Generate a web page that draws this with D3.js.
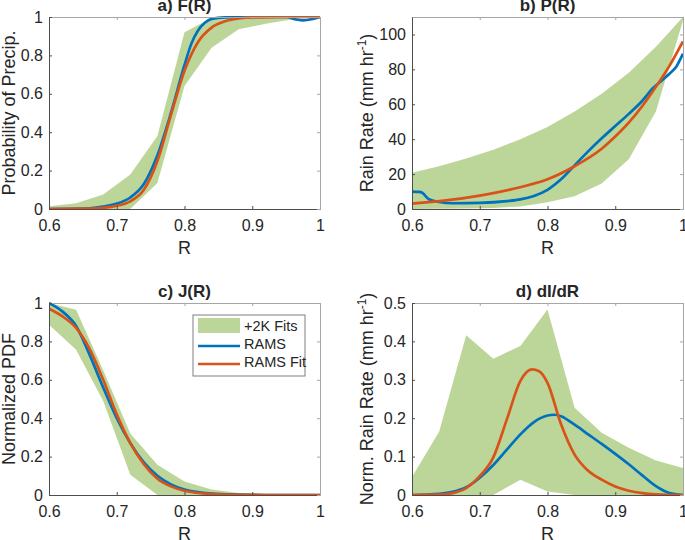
<!doctype html>
<html>
<head>
<meta charset="utf-8">
<script src="https://d3js.org/d3.v7.min.js"></script>
<style>
  body { margin: 0; background: #fff; }
  text { font-family: "Liberation Sans", Arial, Helvetica, sans-serif; fill: #262626; }
</style>
</head>
<body>
<svg width="685" height="540" id="chart"></svg>
<script>
// ---- data ----
var bandR = [0.6, 0.64, 0.68, 0.72, 0.76, 0.80, 0.84, 0.88, 0.92, 0.96, 1.0];

// a) F(R)
var bandHiA = [0.014, 0.03, 0.075, 0.18, 0.38, 0.92, 0.995, 1, 1, 1, 1];
var bandLoA = [0, 0, 0, 0, 0.135, 0.64, 0.84, 0.936, 0.965, 0.988, 1];
var ramsRA  = [0.6, 0.66, 0.68, 0.70, 0.72, 0.74, 0.76, 0.78, 0.80, 0.81, 0.82, 0.83, 0.84, 0.86, 0.9, 0.95, 0.965, 0.975, 0.985, 1.0];
var ramsA   = [0, 0.004, 0.012, 0.028, 0.06, 0.13, 0.28, 0.5, 0.75, 0.86, 0.93, 0.97, 0.99, 0.998, 1, 1, 0.987, 0.982, 0.987, 1];
var fitRA   = [0.6, 0.66, 0.68, 0.70, 0.72, 0.74, 0.76, 0.78, 0.80, 0.82, 0.84, 0.86, 0.88, 0.90, 0.95, 1.0];
var fitA    = [0, 0.002, 0.006, 0.017, 0.04, 0.1, 0.25, 0.49, 0.72, 0.87, 0.945, 0.978, 0.992, 0.998, 1, 1];

// b) P(R)
var bandHiB = [20.8, 24.5, 29, 34, 40, 47, 55.8, 66, 78, 93, 110];
var bandLoB = [0, 0.1, 0.3, 0.6, 1.5, 3.8, 7.3, 14.6, 28.5, 55.8, 108];
var ramsRB  = [0.6, 0.61, 0.615, 0.625, 0.64, 0.66, 0.70, 0.74, 0.76, 0.78, 0.80, 0.82, 0.84, 0.86, 0.88, 0.90, 0.92, 0.94, 0.955, 0.97, 0.98, 0.99, 1.0];
var ramsB   = [10, 9.8, 9.3, 5.6, 4.0, 3.3, 3.5, 4.5, 5.5, 7.5, 11, 17, 25, 33, 40.5, 47.5, 54.5, 62, 69, 74, 77.5, 81.5, 89];
var fitRB   = [0.6, 0.65, 0.70, 0.75, 0.80, 0.84, 0.88, 0.90, 0.92, 0.94, 0.96, 0.98, 1.0];
var fitB    = [3.1, 4.9, 7.7, 11.6, 17, 24.5, 34.5, 41.5, 49.5, 59, 70, 82, 96];

// c) J(R)
var bandHiC = [1.0, 0.965, 0.65, 0.32, 0.158, 0.07, 0.028, 0.01, 0.004, 0.001, 0];
var bandLoC = [0.887, 0.757, 0.49, 0.106, 0, 0, 0, 0, 0, 0, 0];
var ramsRC  = [0.6, 0.62, 0.64, 0.66, 0.68, 0.70, 0.72, 0.74, 0.76, 0.78, 0.80, 0.84, 0.88, 0.92, 1.0];
var ramsC   = [1.0, 0.955, 0.88, 0.73, 0.56, 0.4, 0.27, 0.17, 0.1, 0.055, 0.028, 0.007, 0.002, 0, 0];
var fitRC   = [0.6, 0.62, 0.64, 0.66, 0.68, 0.70, 0.72, 0.74, 0.76, 0.78, 0.80, 0.84, 0.88, 0.92, 1.0];
var fitC    = [0.97, 0.93, 0.87, 0.76, 0.6, 0.42, 0.27, 0.16, 0.085, 0.045, 0.022, 0.005, 0.001, 0, 0];

// d) dI/dR
var bandHiD = [0.047, 0.165, 0.416, 0.355, 0.388, 0.483, 0.227, 0.162, 0.123, 0.09, 0.07];
var bandLoD = [0, 0, 0, 0, 0.04, 0.009, 0, 0, 0, 0, 0];
var ramsRD  = [0.6, 0.64, 0.66, 0.68, 0.70, 0.72, 0.74, 0.76, 0.78, 0.80, 0.81, 0.82, 0.84, 0.86, 0.88, 0.90, 0.92, 0.94, 0.96, 0.98, 1.0];
var ramsD   = [0, 0.003, 0.008, 0.02, 0.045, 0.078, 0.118, 0.158, 0.19, 0.207, 0.209, 0.205, 0.183, 0.158, 0.133, 0.107, 0.08, 0.051, 0.023, 0.005, 0];
var fitRD   = [0.6, 0.64, 0.66, 0.68, 0.70, 0.72, 0.74, 0.76, 0.777, 0.787, 0.80, 0.82, 0.84, 0.86, 0.88, 0.90, 0.92, 0.94, 0.96, 1.0];
var fitD    = [0, 0.001, 0.005, 0.018, 0.049, 0.098, 0.197, 0.297, 0.327, 0.323, 0.292, 0.184, 0.105, 0.063, 0.04, 0.022, 0.011, 0.005, 0.002, 0];

var xTicks = [0.6, 0.7, 0.8, 0.9, 1.0];
var xTickLabels = ["0.6", "0.7", "0.8", "0.9", "1"];
var yTicksA = [0, 0.2, 0.4, 0.6, 0.8, 1], yTickLabelsA = ["0", "0.2", "0.4", "0.6", "0.8", "1"];
var yTicksB = [0, 20, 40, 60, 80, 100], yTickLabelsB = ["0", "20", "40", "60", "80", "100"];
var yTicksC = [0, 0.2, 0.4, 0.6, 0.8, 1], yTickLabelsC = ["0", "0.2", "0.4", "0.6", "0.8", "1"];
var yTicksD = [0, 0.1, 0.2, 0.3, 0.4, 0.5], yTickLabelsD = ["0", "0.1", "0.2", "0.3", "0.4", "0.5"];

var legendLabels = ["+2K Fits", "RAMS", "RAMS Fit"];

var blue = "#0072BD", orange = "#D95319", green = "#bcd699";

var svg = d3.select("#chart");

function zip(xs, ys) { return xs.map(function (x, i) { return [x, ys[i]]; }); }

function panel(id, box, yDomain, yTicks, yTickLabels, title, ylabel, band, rams, fit) {
  var x = d3.scaleLinear().domain([0.6, 1]).range([box.x0, box.x1]);
  var y = d3.scaleLinear().domain(yDomain).range([box.y1, box.y0]);

  svg.append("clipPath").attr("id", "clip" + id)
    .append("rect").attr("x", box.x0).attr("y", box.y0 - 1)
    .attr("width", box.x1 - box.x0).attr("height", box.y1 - box.y0 + 2);

  var g = svg.append("g").attr("clip-path", "url(#clip" + id + ")");

  // band
  var area = d3.area()
    .x(function (d) { return x(d[0]); })
    .y0(function (d) { return y(d[1]); })
    .y1(function (d) { return y(d[2]); });
  g.append("path")
    .datum(bandR.map(function (r, i) { return [r, band[0][i], band[1][i]]; }))
    .attr("d", area)
    .attr("fill", green);

  var line = d3.line()
    .x(function (d) { return x(d[0]); })
    .y(function (d) { return y(d[1]); })
    .curve(d3.curveMonotoneX);

  g.append("path").datum(zip(rams[0], rams[1])).attr("d", line)
    .attr("fill", "none").attr("stroke", blue).attr("stroke-width", 2.7);
  g.append("path").datum(zip(fit[0], fit[1])).attr("d", line)
    .attr("fill", "none").attr("stroke", orange).attr("stroke-width", 2.7);

  // MATLAB style box with inward ticks
  var axB = d3.axisBottom(x).tickValues(xTicks).tickSizeInner(-3).tickSizeOuter(0)
    .tickFormat(function (d, i) { return xTickLabels[i]; }).tickPadding(11);
  var axT = d3.axisTop(x).tickValues(xTicks).tickSizeInner(-3).tickSizeOuter(0).tickFormat("");
  var axL = d3.axisLeft(y).tickValues(yTicks).tickSizeInner(-3).tickSizeOuter(0)
    .tickFormat(function (d, i) { return yTickLabels[i]; }).tickPadding(6);
  var axR = d3.axisRight(y).tickValues(yTicks).tickSizeInner(-3).tickSizeOuter(0).tickFormat("");

  var gb = svg.append("g").attr("transform", "translate(0," + box.y1 + ")").call(axB);
  var gt = svg.append("g").attr("transform", "translate(0," + box.y0 + ")").call(axT);
  var gl = svg.append("g").attr("transform", "translate(" + box.x0 + ",0)").call(axL);
  var gr = svg.append("g").attr("transform", "translate(" + box.x1 + ",0)").call(axR);

  [gb, gl].forEach(function (a) {
    a.select(".domain").attr("stroke", "#4d4d4d");
    a.selectAll(".tick line").attr("stroke", "#4d4d4d");
    a.selectAll(".tick text").style("font-size", "16px").attr("fill", "#262626")
      .style("font-family", "'Liberation Sans', Arial, sans-serif");
  });
  [gt, gr].forEach(function (a) {
    a.select(".domain").attr("stroke", "#a6a6a6");
    a.selectAll(".tick line").attr("stroke", "#a6a6a6");
  });

  // title
  svg.append("text")
    .attr("x", (box.x0 + box.x1) / 2).attr("y", box.y0 - 6.5)
    .attr("text-anchor", "middle")
    .style("font-size", "17px").style("font-weight", "bold")
    .attr("fill", "#000")
    .text(title);

  // x label
  svg.append("text")
    .attr("x", (box.x0 + box.x1) / 2).attr("y", box.y1 + 45)
    .attr("text-anchor", "middle")
    .style("font-size", "18px")
    .text("R");

  // y label
  var yl = svg.append("text")
    .attr("transform", "translate(" + box.ylx + "," + ((box.y0 + box.y1) / 2) + ")rotate(-90)")
    .attr("text-anchor", "middle")
    .style("font-size", "18px");
  yl.append("tspan").text(ylabel[0]);
  if (ylabel.length > 1) {
    yl.append("tspan").attr("dy", -7).style("font-size", "12px").text(ylabel[1]);
    yl.append("tspan").attr("dy", 7).text(ylabel[2]);
  }
}

panel("a", {x0: 49, x1: 320, y0: 17, y1: 209, ylx: 15}, [0, 1], yTicksA, yTickLabelsA,
  "a) F(R)", ["Probability of Precip."], [bandLoA, bandHiA], [ramsRA, ramsA], [fitRA, fitA]);
panel("b", {x0: 412, x1: 683, y0: 17, y1: 209, ylx: 373}, [0, 110], yTicksB, yTickLabelsB,
  "b) P(R)", ["Rain Rate (mm hr", "-1", ")"], [bandLoB, bandHiB], [ramsRB, ramsB], [fitRB, fitB]);
panel("c", {x0: 49, x1: 320, y0: 303, y1: 495, ylx: 15}, [0, 1], yTicksC, yTickLabelsC,
  "c) J(R)", ["Normalized PDF"], [bandLoC, bandHiC], [ramsRC, ramsC], [fitRC, fitC]);
panel("d", {x0: 412, x1: 683, y0: 303, y1: 495, ylx: 373}, [0, 0.5], yTicksD, yTickLabelsD,
  "d) dI/dR", ["Norm. Rain Rate (mm hr", "-1", ")"], [bandLoD, bandHiD], [ramsRD, ramsD], [fitRD, fitD]);

// legend in panel c
var lg = svg.append("g").attr("transform", "translate(193,315)");
lg.append("rect").attr("width", 112).attr("height", 61)
  .attr("fill", "#fff").attr("stroke", "#7f7f7f").attr("stroke-width", 1);
lg.append("rect").attr("x", 5).attr("y", 3).attr("width", 42).attr("height", 15).attr("fill", green);
lg.append("line").attr("x1", 5).attr("x2", 47).attr("y1", 31).attr("y2", 31)
  .attr("stroke", blue).attr("stroke-width", 2.7);
lg.append("line").attr("x1", 5).attr("x2", 47).attr("y1", 49).attr("y2", 49)
  .attr("stroke", orange).attr("stroke-width", 2.7);
legendLabels.forEach(function (t, i) {
  lg.append("text").attr("x", 51).attr("y", 16 + i * 18)
    .style("font-size", "14.5px").text(t);
});
</script>
</body>
</html>
